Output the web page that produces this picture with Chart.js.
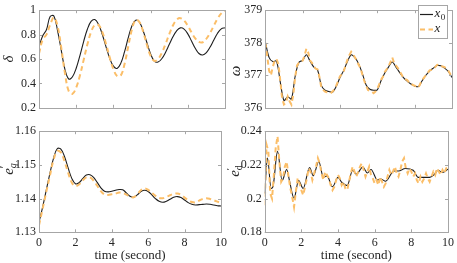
<!DOCTYPE html>
<html lang="en">
<head>
<meta charset="UTF-8" />
<title>Reference vs estimated states</title>
<script src="https://cdn.jsdelivr.net/npm/chart.js"></script>
<style>
  body { margin: 0; background: #fff; }
  #wrap { position: relative; width: 457px; height: 263px; }
  canvas { position: absolute; }
</style>
</head>
<body>
<div id="wrap">
  <canvas id="c-delta" width="230" height="118" style="left:0;top:0"></canvas>
  <canvas id="c-omega" width="230" height="118" style="left:227px;top:0"></canvas>
  <canvas id="c-eq" width="230" height="142" style="left:0;top:121px"></canvas>
  <canvas id="c-ed" width="230" height="142" style="left:227px;top:121px"></canvas>
</div>
<script>
// time grids (s)
const tCoarse = [0, 0.2, 0.4, 0.6, 0.8, 1, 1.2, 1.4, 1.6, 1.8, 2, 2.2, 2.4, 2.6, 2.8, 3, 3.2, 3.4, 3.6, 3.8,
  4, 4.2, 4.4, 4.6, 4.8, 5, 5.2, 5.4, 5.6, 5.8, 6, 6.2, 6.4, 6.6, 6.8, 7, 7.2, 7.4, 7.6, 7.8,
  8, 8.2, 8.4, 8.6, 8.8, 9, 9.2, 9.4, 9.6, 9.8, 10];
const tFine = [0, 0.1, 0.2, 0.3, 0.4, 0.5, 0.6, 0.7, 0.8, 0.9, 1, 1.1, 1.2, 1.3, 1.4, 1.5, 1.6, 1.7, 1.8, 1.9,
  2, 2.1, 2.2, 2.3, 2.4, 2.5, 2.6, 2.7, 2.8, 2.9, 3, 3.1, 3.2, 3.3, 3.4, 3.5, 3.6, 3.7, 3.8, 3.9,
  4, 4.1, 4.2, 4.3, 4.4, 4.5, 4.6, 4.7, 4.8, 4.9, 5, 5.1, 5.2, 5.3, 5.4, 5.5, 5.6, 5.7, 5.8, 5.9,
  6, 6.1, 6.2, 6.3, 6.4, 6.5, 6.6, 6.7, 6.8, 6.9, 7, 7.1, 7.2, 7.3, 7.4, 7.5, 7.6, 7.7, 7.8, 7.9,
  8, 8.1, 8.2, 8.3, 8.4, 8.5, 8.6, 8.7, 8.8, 8.9, 9, 9.1, 9.2, 9.3, 9.4, 9.5, 9.6, 9.7, 9.8, 9.9, 10];

// delta (on tCoarse)
const deltaRef = [0.70, 0.79, 0.84, 0.948, 0.952, 0.83, 0.669, 0.511, 0.436, 0.455, 0.524, 0.628, 0.743, 0.844, 0.908,
  0.923, 0.884, 0.803, 0.702, 0.606, 0.541, 0.523, 0.566, 0.660, 0.775, 0.872, 0.918, 0.901, 0.832, 0.735,
  0.642, 0.582, 0.575, 0.602, 0.654, 0.718, 0.782, 0.831, 0.855, 0.845, 0.806, 0.747, 0.688, 0.645, 0.633,
  0.653, 0.698, 0.756, 0.811, 0.847, 0.856];
const deltaEst = [0.645, 0.76, 0.80, 0.88, 0.94, 0.869, 0.689, 0.48, 0.336, 0.315, 0.366, 0.465, 0.591, 0.718, 0.821,
  0.878, 0.878, 0.822, 0.725, 0.614, 0.517, 0.461, 0.466, 0.559, 0.705, 0.845, 0.92, 0.903, 0.824, 0.717,
  0.625, 0.585, 0.60, 0.649, 0.722, 0.802, 0.874, 0.921, 0.935, 0.915, 0.872, 0.818, 0.769, 0.74, 0.737,
  0.766, 0.814, 0.873, 0.93, 0.974, 0.994];

// omega (ref on tCoarse, estimate on tFine)
const omegaRef = [378.03, 377.55, 377.42, 377.44, 376.8, 376.22, 376.34, 376.27, 376.97, 377.40, 377.46, 377.63,
  377.43, 377.25, 377.16, 376.69, 376.54, 376.5, 376.48, 376.66, 376.93, 377.15, 377.42, 377.63, 377.54,
  377.35, 377.05, 376.7, 376.57, 376.54, 376.55, 376.83, 377.07, 377.25, 377.41, 377.25, 377.08, 376.93,
  376.82, 376.73, 376.67, 376.65, 376.83, 377.0, 377.13, 377.22, 377.3, 377.29, 377.22, 377.12, 376.93];
const omegaEst = [378.0, 377.6, 377.15, 377.0, 377.25, 377.45, 377.5, 377.35, 376.85, 376.3, 376.1, 376.15, 376.35,
  376.2, 376.1, 376.4, 376.95, 377.3, 377.38, 377.4, 377.45, 377.6, 377.82, 377.7, 377.45, 377.38, 377.28,
  377.2, 377.18, 376.95, 376.62, 376.55, 376.5, 376.48, 376.47, 376.45, 376.5, 376.57, 376.68, 376.82,
  376.97, 377.03, 377.12, 377.3, 377.48, 377.62, 377.72, 377.65, 377.55, 377.45, 377.32, 377.22, 377.02,
  376.83, 376.68, 376.55, 376.52, 376.5, 376.45, 376.5, 376.58, 376.72, 376.86, 376.95, 377.1, 377.18,
  377.28, 377.4, 377.55, 377.38, 377.3, 377.22, 377.12, 377.02, 376.92, 376.88, 376.85, 376.78, 376.76,
  376.7, 376.68, 376.65, 376.62, 376.74, 376.85, 376.93, 377.0, 377.08, 377.15, 377.17, 377.2, 377.25,
  377.32, 377.33, 377.28, 377.27, 377.25, 377.2, 377.15, 377.05, 376.95];

// e'q (on tCoarse)
const eqRef = [1.133, 1.1375, 1.1425, 1.1475, 1.152, 1.1548, 1.1547, 1.1525, 1.1491, 1.146, 1.1444, 1.1447, 1.1459,
  1.147, 1.1471, 1.1463, 1.1448, 1.1432, 1.1422, 1.142, 1.1422, 1.1425, 1.1427, 1.1426, 1.1417, 1.1407,
  1.1404, 1.1411, 1.1421, 1.1425, 1.1421, 1.1411, 1.14, 1.1392, 1.1389, 1.1392, 1.1398, 1.1404, 1.1406,
  1.1403, 1.1396, 1.1388, 1.1383, 1.1381, 1.1382, 1.1383, 1.1384, 1.1383, 1.1381, 1.1379, 1.1378];
const eqEst = [1.1321, 1.137, 1.142, 1.1468, 1.1515, 1.1541, 1.1537, 1.1511, 1.1477, 1.1448, 1.1437, 1.1442, 1.1454,
  1.1463, 1.1463, 1.1453, 1.1438, 1.1422, 1.1412, 1.1411, 1.1413, 1.1415, 1.1418, 1.1417, 1.1412, 1.1406,
  1.1404, 1.1413, 1.1425, 1.143, 1.1426, 1.1417, 1.1408, 1.1402, 1.1401, 1.1405, 1.141, 1.1414, 1.1415,
  1.1411, 1.1403, 1.1395, 1.139, 1.1389, 1.1394, 1.1399, 1.1401, 1.1399, 1.1395, 1.1391, 1.1387];

// e'd (ref on its own time points, estimate on tFine)
const edRefT = [0, 0.15, 0.35, 0.45, 0.7, 0.95, 1.2, 1.35, 1.6, 1.85, 2.1, 2.45, 2.65, 2.95, 3.2, 3.4, 3.7, 4.0,
  4.2, 4.5, 4.8, 5.0, 5.35, 5.6, 5.8, 6.15, 6.33, 6.6, 7.05, 7.3, 7.67, 8.1, 8.38, 8.64, 9.0, 9.27, 9.45, 9.7, 10];
const edRef = [0.203, 0.224, 0.206, 0.207, 0.228, 0.2107, 0.2173, 0.2107, 0.2003, 0.2107, 0.206, 0.2185, 0.2135,
  0.222, 0.2126, 0.2135, 0.207, 0.2126, 0.2097, 0.2078, 0.2168, 0.2145, 0.2187, 0.2152, 0.2173, 0.211,
  0.2116, 0.2103, 0.2164, 0.2164, 0.2179, 0.2168, 0.2126, 0.2126, 0.2126, 0.2145, 0.2168, 0.2155, 0.2175];
const edEst = [0.196, 0.232, 0.228, 0.203, 0.200, 0.214, 0.230, 0.237, 0.222, 0.210, 0.212, 0.219, 0.222, 0.213,
  0.206, 0.201, 0.195, 0.204, 0.212, 0.209, 0.205, 0.202, 0.207, 0.212, 0.218, 0.216, 0.211, 0.215, 0.219,
  0.224, 0.221, 0.215, 0.211, 0.216, 0.214, 0.212, 0.208, 0.205, 0.207, 0.211, 0.214, 0.212, 0.208, 0.210,
  0.206, 0.205, 0.210, 0.215, 0.219, 0.216, 0.213, 0.216, 0.219, 0.221, 0.217, 0.213, 0.216, 0.219, 0.214,
  0.212, 0.209, 0.211, 0.208, 0.213, 0.210, 0.207, 0.209, 0.213, 0.217, 0.214, 0.216, 0.219, 0.215, 0.213,
  0.217, 0.222, 0.224, 0.218, 0.215, 0.218, 0.216, 0.213, 0.215, 0.211, 0.209, 0.213, 0.210, 0.212, 0.215,
  0.212, 0.210, 0.213, 0.216, 0.214, 0.218, 0.216, 0.214, 0.217, 0.215, 0.218, 0.219];

// tick values
const timeTicks = [0, 2, 4, 6, 8, 10];
const deltaTicks = [0.2, 0.4, 0.6, 0.8, 1];
const omegaTicks = [376, 377, 378, 379];
const eqTicks = [1.13, 1.14, 1.15, 1.16];
const edTicks = [0.18, 0.2, 0.22, 0.24];
const xTitle = 'time (second)';
const legendNames = [{ main: 'x', sub: '0' }, { main: 'x', sub: '' }];

const FONT = '"Liberation Serif", "Times New Roman", serif';
const INK = '#262626';
const BOX = '#a6a6a6';
const REF_COLOR = '#1e1e1e';
const EST_COLOR = 'rgb(251, 190, 104)';

const pts = (ts, vs) => ts.map((t, i) => ({ x: t, y: vs[i] }));
const fmt = v => String(+(+v).toFixed(2));

// matlab-ish box, inward ticks, rotated y label, small legend
const matlabAxes = {
  id: 'matlabAxes',
  afterDatasetsDraw(chart, args, opts) {
    const { ctx, chartArea: a, scales: { x, y } } = chart;
    ctx.save();
    ctx.strokeStyle = BOX;
    ctx.lineWidth = 1;
    ctx.beginPath();
    for (const t of x.ticks) {
      const px = Math.round(x.getPixelForValue(t.value)) + 0.5;
      ctx.moveTo(px, a.bottom); ctx.lineTo(px, a.bottom - 3);
      ctx.moveTo(px, a.top); ctx.lineTo(px, a.top + 3);
    }
    for (const t of y.ticks) {
      const py = Math.round(y.getPixelForValue(t.value)) + 0.5;
      ctx.moveTo(a.left, py); ctx.lineTo(a.left + 3, py);
      ctx.moveTo(a.right, py); ctx.lineTo(a.right - 3, py);
    }
    ctx.stroke();
    ctx.strokeRect(Math.round(a.left) + 0.5, Math.round(a.top) + 0.5,
      Math.round(a.right - a.left), Math.round(a.bottom - a.top));

    const lab = opts.label;
    if (lab) {
      ctx.save();
      ctx.translate(lab.x, lab.y);
      ctx.rotate(-Math.PI / 2);
      ctx.fillStyle = INK;
      ctx.textBaseline = 'middle';
      let cx = 0, w = 0;
      const placed = lab.parts.map(p => {
        ctx.font = p.font;
        const pw = ctx.measureText(p.text).width;
        const px = cx;
        if (p.advance !== false) cx = px + pw;
        w = Math.max(w, px + pw);
        return Object.assign({ px }, p);
      });
      for (const p of placed) {
        ctx.font = p.font;
        ctx.fillText(p.text, p.px - w / 2, p.dy || 0);
      }
      ctx.restore();
    }

    const L = opts.legend;
    if (L) {
      ctx.fillStyle = '#fff';
      ctx.fillRect(L.x, L.y, L.w, L.h);
      ctx.strokeStyle = BOX;
      ctx.strokeRect(L.x + 0.5, L.y + 0.5, L.w, L.h);
      const rows = [
        { y: L.y + 9.5, color: REF_COLOR, width: 1.2, dash: [] },
        { y: L.y + 24.5, color: EST_COLOR, width: 2, dash: [5, 3.5] }
      ];
      rows.forEach((r, i) => {
        ctx.save();
        ctx.strokeStyle = r.color;
        ctx.lineWidth = r.width;
        ctx.setLineDash(r.dash);
        ctx.beginPath();
        ctx.moveTo(L.x + 2, r.y);
        ctx.lineTo(L.x + 15, r.y);
        ctx.stroke();
        ctx.restore();
        ctx.fillStyle = INK;
        ctx.textBaseline = 'middle';
        ctx.font = 'italic 13px ' + FONT;
        ctx.fillText(legendNames[i].main, L.x + 16.5, r.y - 0.5);
        const mw = ctx.measureText(legendNames[i].main).width;
        if (legendNames[i].sub) {
          ctx.font = '9px ' + FONT;
          ctx.fillText(legendNames[i].sub, L.x + 16.5 + mw + 0.5, r.y + 3);
        }
      });
    }
    ctx.restore();
  }
};

function makeChart(id, cfg) {
  const tickFont = { family: FONT, size: 12 };
  return new Chart(document.getElementById(id), {
    type: 'line',
    data: {
      datasets: [
        { label: 'x0', data: cfg.ref, borderColor: REF_COLOR, borderWidth: 1.1, pointRadius: 0,
          tension: cfg.refTension, cubicInterpolationMode: cfg.refMode || 'default', order: 2 },
        { label: 'x', data: cfg.est, borderColor: EST_COLOR, borderWidth: 2, borderDash: [5, 3.5],
          pointRadius: 0, tension: cfg.estTension, order: 1 }
      ]
    },
    options: {
      responsive: false,
      animation: false,
      events: [],
      layout: { padding: { top: cfg.padTop, right: 5, left: 0, bottom: 0 } },
      plugins: {
        legend: { display: false },
        tooltip: { enabled: false },
        matlabAxes: { label: cfg.label, legend: cfg.legend }
      },
      scales: {
        x: {
          type: 'linear', min: 0, max: 10,
          afterBuildTicks: s => { s.ticks = timeTicks.map(v => ({ value: v })); },
          afterFit: s => { s.height = cfg.xHeight; },
          grid: { display: false, drawTicks: false },
          border: { display: false },
          ticks: { display: cfg.xLabels, padding: 3, font: tickFont, color: INK, maxRotation: 0,
            callback: v => fmt(v) },
          title: { display: cfg.xLabels, text: xTitle, font: { family: FONT, size: 13 }, color: INK,
            padding: { top: 0, bottom: 0 } }
        },
        y: {
          type: 'linear', min: cfg.ticks[0], max: cfg.ticks[cfg.ticks.length - 1],
          afterBuildTicks: s => { s.ticks = cfg.ticks.map(v => ({ value: v })); },
          afterFit: s => { s.width = cfg.yWidth; },
          grid: { display: false, drawTicks: false },
          border: { display: false },
          ticks: { padding: 3, font: tickFont, color: INK, callback: v => fmt(v) }
        }
      }
    },
    plugins: [matlabAxes]
  });
}

makeChart('c-delta', {
  ref: pts(tCoarse, deltaRef), est: pts(tCoarse, deltaEst), ticks: deltaTicks,
  refTension: 0.4, estTension: 0.4,
  padTop: 5, xHeight: 7, yWidth: 39, xLabels: false,
  label: { x: 9, y: 59, parts: [{ text: 'δ', font: 'italic 15px ' + FONT }] }
});

makeChart('c-omega', {
  ref: pts(tCoarse, omegaRef), est: pts(tFine, omegaEst), ticks: omegaTicks,
  refTension: 0.3, estTension: 0,
  padTop: 5, xHeight: 7, yWidth: 38.3, xLabels: false,
  label: { x: 9.5, y: 71, parts: [{ text: 'ω', font: 'italic 15px ' + FONT }] },
  legend: { x: 191, y: 5, w: 29, h: 33 }
});

makeChart('c-eq', {
  ref: pts(tCoarse, eqRef), est: pts(tCoarse, eqEst), ticks: eqTicks,
  refTension: 0.4, estTension: 0.4,
  padTop: 5.7, xHeight: 30.7, yWidth: 39, xLabels: true,
  label: { x: 9, y: 48, parts: [
    { text: 'e', font: 'italic 15px ' + FONT },
    { text: '′', font: '12px ' + FONT, dy: -4, advance: false },
    { text: 'q', font: 'italic 10px ' + FONT, dy: 4 }
  ] }
});

makeChart('c-ed', {
  ref: pts(edRefT, edRef), est: pts(tFine, edEst), ticks: edTicks,
  refTension: 0, refMode: 'monotone', estTension: 0,
  padTop: 5.7, xHeight: 30.7, yWidth: 37.7, xLabels: true,
  label: { x: 8, y: 50, parts: [
    { text: 'e', font: 'italic 15px ' + FONT },
    { text: '′', font: '12px ' + FONT, dy: -4, advance: false },
    { text: 'd', font: '10px ' + FONT, dy: 4 }
  ] }
});
</script>
</body>
</html>
